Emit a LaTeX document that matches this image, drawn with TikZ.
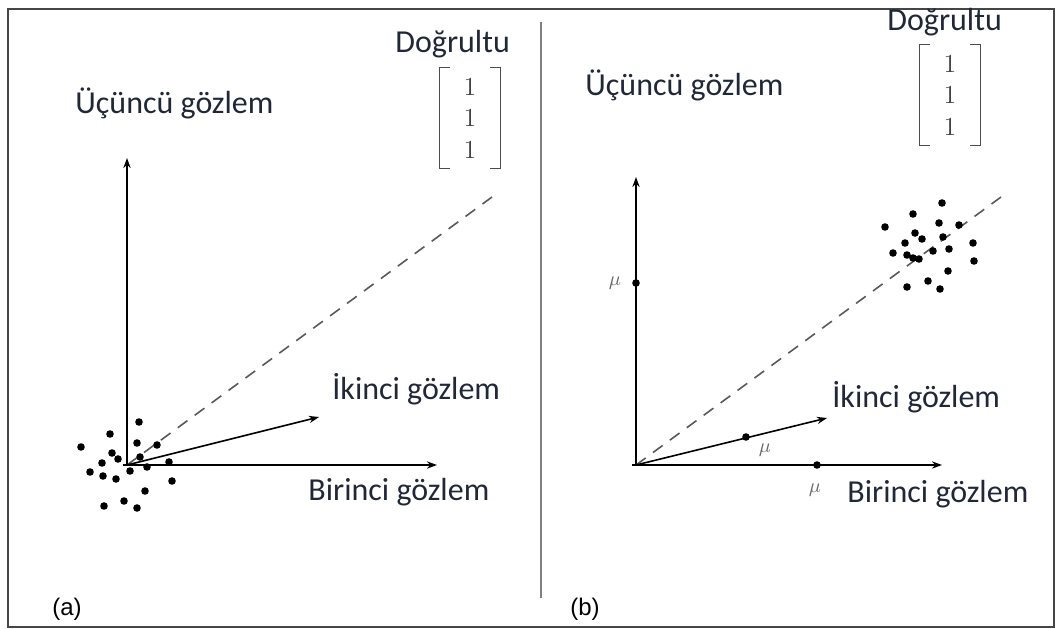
\documentclass[tikz,border=0pt]{standalone}
\usepackage{fontspec}
\newfontfamily\lblfont{Carlito}
\newfontfamily\tagfont{Liberation Sans}
\usetikzlibrary{positioning,arrows.meta}
\definecolor{lbl}{RGB}{32,40,56}
\definecolor{framecol}{RGB}{70,70,70}

\begin{document}
\begin{tikzpicture}[x=0.5pt,y=-0.5pt,
  lab/.style={font=\lblfont\fontsize{16}{18}\selectfont,text=lbl,inner sep=0pt,anchor=base west},
  tag/.style={font=\tagfont\fontsize{12}{14}\selectfont,inner sep=0pt,anchor=base west},
  axarrow/.style={line width=1pt,-{Stealth[length=5pt,width=3.6pt]}},
  dirline/.style={dash pattern=on 6pt off 4.5pt,line width=0.8pt,draw=black!65},
  obs/.style={circle,fill=black,inner sep=0pt,minimum size=3.8pt},
  vecbox/.style={font=\fontsize{13}{15.75}\selectfont,align=center,inner sep=0pt,minimum width=30pt,minimum height=50pt,text=black!75},
  brk/.style={line width=0.6pt,draw=black!70},
  mulab/.style={font=\fontsize{10}{12}\selectfont,text=black!60,inner sep=0pt}]
\useasboundingbox (0,0) rectangle (1057,628);
% ---- frame and divider ----
\draw[framecol,line width=1pt] (8,9) rectangle (1054,627);
\draw[black!50,line width=0.8pt] (541,22) -- (541,598);
% ---- panel (a) ----
\coordinate (oa) at (127,465);
\coordinate (ya) at (127,158);
\coordinate (xa) at (437,465);
\coordinate (za) at (319,417);
\coordinate (da) at (492,197);
\draw[dirline] (oa) -- (da);
\draw[axarrow] (oa) -- (ya);
\draw[axarrow] ([xshift=-2pt]oa) -- (xa);
\draw[axarrow,line width=0.8pt] (oa) -- (za);
\node[lab] (ua) at (75,113) {Üçüncü gözlem};
\node[lab] (ia) at (332,399) {İkinci gözlem};
\node[lab] (ba) at (308,500) {Birinci gözlem};
\node[lab] (dta) at (395,52) {Doğrultu};
\node[vecbox] (va) at (470,118) {1\\1\\1};
\draw[brk] ([xshift=5pt]va.north west) -- (va.north west) -- (va.south west) -- ([xshift=5pt]va.south west);
\draw[brk] ([xshift=-5pt]va.north east) -- (va.north east) -- (va.south east) -- ([xshift=-5pt]va.south east);
\foreach \x/\y in {139/422,110/434,81/447,137/443,157/445,112/453,118/459,102/463,140/457,
  90/472,103/476,116/479,130/471,147/467,169/462,172/481,145/491,124/501,104/506,137/508}
  \node[obs] at (\x,\y) {};
\node[tag] (ta) at (52,615) {(a)};
% ---- panel (b) ----
\coordinate (ob) at (636,465);
\coordinate (yb) at (636,177);
\coordinate (xb) at (942,465);
\coordinate (zb) at (827,418);
\coordinate (db) at (1001,197);
\draw[dirline] (ob) -- (db);
\draw[axarrow] (ob) -- (yb);
\draw[axarrow] ([xshift=-2pt]ob) -- (xb);
\draw[axarrow,line width=0.8pt] (ob) -- (zb);
\node[lab] (ub) at (585,95) {Üçüncü gözlem};
\node[lab] (ib) at (832,407) {İkinci gözlem};
\node[lab] (bb) at (847,502) {Birinci gözlem};
\node[lab] (dtb) at (887,30) {Doğrultu};
\node[vecbox] (vb) at (950,95) {1\\1\\1};
\draw[brk] ([xshift=5pt]vb.north west) -- (vb.north west) -- (vb.south west) -- ([xshift=5pt]vb.south west);
\draw[brk] ([xshift=-5pt]vb.north east) -- (vb.north east) -- (vb.south east) -- ([xshift=-5pt]vb.south east);
\foreach \x/\y in {942/203,913/214,885/227,939/223,959/225,915/233,922/239,905/243,943/237,973/243,
  893/253,907/255,933/251,949/249,913/258,919/259,974/261,948/271,907/287,928/281,940/289}
  \node[obs] at (\x,\y) {};
\node[obs] (m1) at (636,283) {};
\node[obs] (m2) at (746,437) {};
\node[obs] (m3) at (817,465) {};
\node[mulab] at (615,283) {$\mu$};
\node[mulab] at (765,450) {$\mu$};
\node[mulab] at (815,490) {$\mu$};
\node[tag] (tb) at (570,615) {(b)};
\end{tikzpicture}
\end{document}
